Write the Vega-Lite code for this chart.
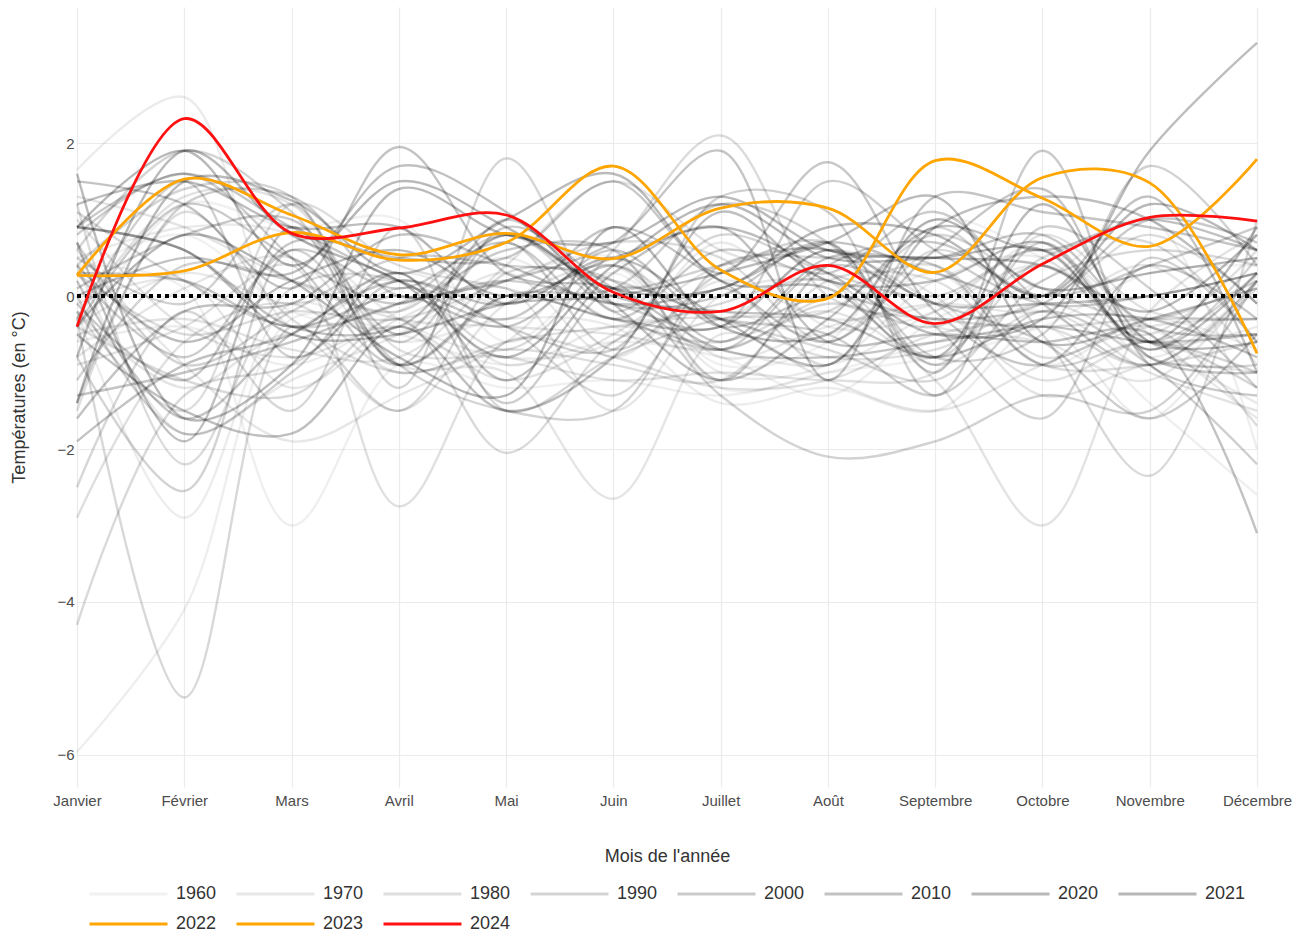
{
  "$schema": "https://vega.github.io/schema/vega-lite/v6.json",
  "width": 1180,
  "height": 780,
  "autosize": {"type": "none"},
  "padding": {"left": 77, "top": 7, "right": 49, "bottom": 148},
  "background": "white",
  "config": {
    "view": {"stroke": null},
    "font": "Liberation Sans",
    "axis": {
      "grid": true,
      "gridColor": "#ebebeb",
      "gridWidth": 1.2,
      "domain": false,
      "ticks": false,
      "labelFontSize": 15,
      "labelColor": "#4d4d4d",
      "labelFont": "Liberation Sans",
      "titleFont": "Liberation Sans",
      "titleFontSize": 18,
      "titleFontWeight": "normal",
      "titleColor": "#333333"
    }
  },
  "datasets": {
    "temperatures": [
      {"annee":1960,"mois":1,"temp":0.3},{"annee":1960,"mois":2,"temp":0.8},{"annee":1960,"mois":3,"temp":-0.2},{"annee":1960,"mois":4,"temp":-0.4},{"annee":1960,"mois":5,"temp":0.2},{"annee":1960,"mois":6,"temp":0.5},{"annee":1960,"mois":7,"temp":-1.2},{"annee":1960,"mois":8,"temp":-1.0},{"annee":1960,"mois":9,"temp":-0.8},{"annee":1960,"mois":10,"temp":-0.4},{"annee":1960,"mois":11,"temp":0.3},{"annee":1960,"mois":12,"temp":0.4},
      {"annee":1961,"mois":1,"temp":-0.6},{"annee":1961,"mois":2,"temp":1.2},{"annee":1961,"mois":3,"temp":0.9},{"annee":1961,"mois":4,"temp":1.0},{"annee":1961,"mois":5,"temp":-0.6},{"annee":1961,"mois":6,"temp":0.3},{"annee":1961,"mois":7,"temp":-0.9},{"annee":1961,"mois":8,"temp":-0.6},{"annee":1961,"mois":9,"temp":1.0},{"annee":1961,"mois":10,"temp":0.5},{"annee":1961,"mois":11,"temp":-0.4},{"annee":1961,"mois":12,"temp":-1.2},
      {"annee":1962,"mois":1,"temp":0.4},{"annee":1962,"mois":2,"temp":0.1},{"annee":1962,"mois":3,"temp":-3.0},{"annee":1962,"mois":4,"temp":-0.9},{"annee":1962,"mois":5,"temp":-1.2},{"annee":1962,"mois":6,"temp":-1.1},{"annee":1962,"mois":7,"temp":-1.3},{"annee":1962,"mois":8,"temp":-1.0},{"annee":1962,"mois":9,"temp":-0.6},{"annee":1962,"mois":10,"temp":-0.2},{"annee":1962,"mois":11,"temp":-1.4},{"annee":1962,"mois":12,"temp":-2.6},
      {"annee":1963,"mois":1,"temp":-5.96},{"annee":1963,"mois":2,"temp":-4.1},{"annee":1963,"mois":3,"temp":-0.3},{"annee":1963,"mois":4,"temp":-0.5},{"annee":1963,"mois":5,"temp":-0.9},{"annee":1963,"mois":6,"temp":-0.6},{"annee":1963,"mois":7,"temp":-0.8},{"annee":1963,"mois":8,"temp":-1.3},{"annee":1963,"mois":9,"temp":-0.3},{"annee":1963,"mois":10,"temp":0.2},{"annee":1963,"mois":11,"temp":1.0},{"annee":1963,"mois":12,"temp":-2.0},
      {"annee":1964,"mois":1,"temp":-0.6},{"annee":1964,"mois":2,"temp":-0.4},{"annee":1964,"mois":3,"temp":-0.9},{"annee":1964,"mois":4,"temp":-0.2},{"annee":1964,"mois":5,"temp":0.5},{"annee":1964,"mois":6,"temp":-0.3},{"annee":1964,"mois":7,"temp":-0.2},{"annee":1964,"mois":8,"temp":-0.5},{"annee":1964,"mois":9,"temp":0.3},{"annee":1964,"mois":10,"temp":-0.9},{"annee":1964,"mois":11,"temp":-0.3},{"annee":1964,"mois":12,"temp":-0.7},
      {"annee":1965,"mois":1,"temp":-0.2},{"annee":1965,"mois":2,"temp":-2.9},{"annee":1965,"mois":3,"temp":-0.1},{"annee":1965,"mois":4,"temp":-0.6},{"annee":1965,"mois":5,"temp":-0.3},{"annee":1965,"mois":6,"temp":-0.4},{"annee":1965,"mois":7,"temp":-1.4},{"annee":1965,"mois":8,"temp":-1.2},{"annee":1965,"mois":9,"temp":-1.5},{"annee":1965,"mois":10,"temp":-0.4},{"annee":1965,"mois":11,"temp":-1.6},{"annee":1965,"mois":12,"temp":0.3},
      {"annee":1966,"mois":1,"temp":1.65},{"annee":1966,"mois":2,"temp":2.6},{"annee":1966,"mois":3,"temp":-0.4},{"annee":1966,"mois":4,"temp":0.3},{"annee":1966,"mois":5,"temp":-0.1},{"annee":1966,"mois":6,"temp":0.4},{"annee":1966,"mois":7,"temp":-1.0},{"annee":1966,"mois":8,"temp":-0.9},{"annee":1966,"mois":9,"temp":0.2},{"annee":1966,"mois":10,"temp":0.5},{"annee":1966,"mois":11,"temp":-0.8},{"annee":1966,"mois":12,"temp":0.2},
      {"annee":1967,"mois":1,"temp":0.5},{"annee":1967,"mois":2,"temp":0.9},{"annee":1967,"mois":3,"temp":0.8},{"annee":1967,"mois":4,"temp":-0.3},{"annee":1967,"mois":5,"temp":-0.8},{"annee":1967,"mois":6,"temp":-0.6},{"annee":1967,"mois":7,"temp":0.7},{"annee":1967,"mois":8,"temp":-0.4},{"annee":1967,"mois":9,"temp":-0.2},{"annee":1967,"mois":10,"temp":0.7},{"annee":1967,"mois":11,"temp":-0.6},{"annee":1967,"mois":12,"temp":-0.4},
      {"annee":1968,"mois":1,"temp":-0.4},{"annee":1968,"mois":2,"temp":0.3},{"annee":1968,"mois":3,"temp":-0.1},{"annee":1968,"mois":4,"temp":0.2},{"annee":1968,"mois":5,"temp":-0.9},{"annee":1968,"mois":6,"temp":-0.4},{"annee":1968,"mois":7,"temp":-0.7},{"annee":1968,"mois":8,"temp":-0.9},{"annee":1968,"mois":9,"temp":-0.2},{"annee":1968,"mois":10,"temp":0.4},{"annee":1968,"mois":11,"temp":-0.6},{"annee":1968,"mois":12,"temp":-1.4},
      {"annee":1969,"mois":1,"temp":0.4},{"annee":1969,"mois":2,"temp":-1.8},{"annee":1969,"mois":3,"temp":-1.1},{"annee":1969,"mois":4,"temp":-0.5},{"annee":1969,"mois":5,"temp":0.3},{"annee":1969,"mois":6,"temp":-0.8},{"annee":1969,"mois":7,"temp":0.2},{"annee":1969,"mois":8,"temp":-0.3},{"annee":1969,"mois":9,"temp":-0.1},{"annee":1969,"mois":10,"temp":0.6},{"annee":1969,"mois":11,"temp":-0.5},{"annee":1969,"mois":12,"temp":-1.6},
      {"annee":1970,"mois":1,"temp":0.6},{"annee":1970,"mois":2,"temp":-0.9},{"annee":1970,"mois":3,"temp":-1.9},{"annee":1970,"mois":4,"temp":-1.3},{"annee":1970,"mois":5,"temp":-0.6},{"annee":1970,"mois":6,"temp":0.5},{"annee":1970,"mois":7,"temp":-0.8},{"annee":1970,"mois":8,"temp":-0.4},{"annee":1970,"mois":9,"temp":-0.1},{"annee":1970,"mois":10,"temp":-0.2},{"annee":1970,"mois":11,"temp":0.4},{"annee":1970,"mois":12,"temp":-0.9},
      {"annee":1971,"mois":1,"temp":-0.1},{"annee":1971,"mois":2,"temp":0.2},{"annee":1971,"mois":3,"temp":-1.2},{"annee":1971,"mois":4,"temp":-0.3},{"annee":1971,"mois":5,"temp":0.1},{"annee":1971,"mois":6,"temp":-1.5},{"annee":1971,"mois":7,"temp":0.0},{"annee":1971,"mois":8,"temp":0.2},{"annee":1971,"mois":9,"temp":-0.4},{"annee":1971,"mois":10,"temp":-0.6},{"annee":1971,"mois":11,"temp":-1.1},{"annee":1971,"mois":12,"temp":0.2},
      {"annee":1972,"mois":1,"temp":-0.8},{"annee":1972,"mois":2,"temp":0.1},{"annee":1972,"mois":3,"temp":0.5},{"annee":1972,"mois":4,"temp":-0.9},{"annee":1972,"mois":5,"temp":-1.0},{"annee":1972,"mois":6,"temp":-2.65},{"annee":1972,"mois":7,"temp":-0.5},{"annee":1972,"mois":8,"temp":-1.1},{"annee":1972,"mois":9,"temp":-1.5},{"annee":1972,"mois":10,"temp":-0.9},{"annee":1972,"mois":11,"temp":-0.4},{"annee":1972,"mois":12,"temp":-0.3},
      {"annee":1973,"mois":1,"temp":-0.2},{"annee":1973,"mois":2,"temp":-1.2},{"annee":1973,"mois":3,"temp":-0.5},{"annee":1973,"mois":4,"temp":-1.5},{"annee":1973,"mois":5,"temp":-0.1},{"annee":1973,"mois":6,"temp":0.4},{"annee":1973,"mois":7,"temp":-0.3},{"annee":1973,"mois":8,"temp":0.6},{"annee":1973,"mois":9,"temp":0.0},{"annee":1973,"mois":10,"temp":-1.3},{"annee":1973,"mois":11,"temp":-0.9},{"annee":1973,"mois":12,"temp":-1.0},
      {"annee":1974,"mois":1,"temp":1.3},{"annee":1974,"mois":2,"temp":0.9},{"annee":1974,"mois":3,"temp":0.2},{"annee":1974,"mois":4,"temp":-0.3},{"annee":1974,"mois":5,"temp":-0.4},{"annee":1974,"mois":6,"temp":-0.5},{"annee":1974,"mois":7,"temp":-0.7},{"annee":1974,"mois":8,"temp":-0.2},{"annee":1974,"mois":9,"temp":-1.1},{"annee":1974,"mois":10,"temp":-3.0},{"annee":1974,"mois":11,"temp":-0.2},{"annee":1974,"mois":12,"temp":0.8},
      {"annee":1975,"mois":1,"temp":1.0},{"annee":1975,"mois":2,"temp":-0.4},{"annee":1975,"mois":3,"temp":-0.8},{"annee":1975,"mois":4,"temp":-0.4},{"annee":1975,"mois":5,"temp":-1.1},{"annee":1975,"mois":6,"temp":-0.5},{"annee":1975,"mois":7,"temp":0.4},{"annee":1975,"mois":8,"temp":0.6},{"annee":1975,"mois":9,"temp":-0.1},{"annee":1975,"mois":10,"temp":-1.1},{"annee":1975,"mois":11,"temp":-0.6},{"annee":1975,"mois":12,"temp":-1.2},
      {"annee":1976,"mois":1,"temp":-0.5},{"annee":1976,"mois":2,"temp":-0.3},{"annee":1976,"mois":3,"temp":-0.7},{"annee":1976,"mois":4,"temp":-0.8},{"annee":1976,"mois":5,"temp":0.4},{"annee":1976,"mois":6,"temp":1.5},{"annee":1976,"mois":7,"temp":0.6},{"annee":1976,"mois":8,"temp":0.2},{"annee":1976,"mois":9,"temp":-0.9},{"annee":1976,"mois":10,"temp":-0.2},{"annee":1976,"mois":11,"temp":-1.0},{"annee":1976,"mois":12,"temp":-1.5},
      {"annee":1977,"mois":1,"temp":-0.3},{"annee":1977,"mois":2,"temp":1.3},{"annee":1977,"mois":3,"temp":1.2},{"annee":1977,"mois":4,"temp":-0.7},{"annee":1977,"mois":5,"temp":-0.8},{"annee":1977,"mois":6,"temp":-1.1},{"annee":1977,"mois":7,"temp":-1.0},{"annee":1977,"mois":8,"temp":-1.1},{"annee":1977,"mois":9,"temp":-1.0},{"annee":1977,"mois":10,"temp":0.8},{"annee":1977,"mois":11,"temp":-0.2},{"annee":1977,"mois":12,"temp":-0.3},
      {"annee":1978,"mois":1,"temp":-0.9},{"annee":1978,"mois":2,"temp":-0.4},{"annee":1978,"mois":3,"temp":0.4},{"annee":1978,"mois":4,"temp":-2.75},{"annee":1978,"mois":5,"temp":-0.6},{"annee":1978,"mois":6,"temp":-0.8},{"annee":1978,"mois":7,"temp":-1.2},{"annee":1978,"mois":8,"temp":-1.1},{"annee":1978,"mois":9,"temp":-0.5},{"annee":1978,"mois":10,"temp":-0.4},{"annee":1978,"mois":11,"temp":-0.9},{"annee":1978,"mois":12,"temp":0.1},
      {"annee":1979,"mois":1,"temp":-2.9},{"annee":1979,"mois":2,"temp":-0.6},{"annee":1979,"mois":3,"temp":-0.1},{"annee":1979,"mois":4,"temp":-1.0},{"annee":1979,"mois":5,"temp":-0.6},{"annee":1979,"mois":6,"temp":-0.4},{"annee":1979,"mois":7,"temp":-0.3},{"annee":1979,"mois":8,"temp":-0.8},{"annee":1979,"mois":9,"temp":-0.7},{"annee":1979,"mois":10,"temp":-0.1},{"annee":1979,"mois":11,"temp":-0.5},{"annee":1979,"mois":12,"temp":0.6},
      {"annee":1980,"mois":1,"temp":-1.5},{"annee":1980,"mois":2,"temp":1.1},{"annee":1980,"mois":3,"temp":-0.3},{"annee":1980,"mois":4,"temp":-1.0},{"annee":1980,"mois":5,"temp":-0.7},{"annee":1980,"mois":6,"temp":-0.9},{"annee":1980,"mois":7,"temp":-1.1},{"annee":1980,"mois":8,"temp":0.2},{"annee":1980,"mois":9,"temp":0.2},{"annee":1980,"mois":10,"temp":-0.9},{"annee":1980,"mois":11,"temp":-0.9},{"annee":1980,"mois":12,"temp":-0.6},
      {"annee":1981,"mois":1,"temp":-0.2},{"annee":1981,"mois":2,"temp":-1.5},{"annee":1981,"mois":3,"temp":1.2},{"annee":1981,"mois":4,"temp":0.4},{"annee":1981,"mois":5,"temp":0.1},{"annee":1981,"mois":6,"temp":-0.3},{"annee":1981,"mois":7,"temp":-0.6},{"annee":1981,"mois":8,"temp":0.0},{"annee":1981,"mois":9,"temp":0.4},{"annee":1981,"mois":10,"temp":-0.8},{"annee":1981,"mois":11,"temp":-0.4},{"annee":1981,"mois":12,"temp":-1.7},
      {"annee":1982,"mois":1,"temp":0.3},{"annee":1982,"mois":2,"temp":-0.5},{"annee":1982,"mois":3,"temp":-0.2},{"annee":1982,"mois":4,"temp":-0.3},{"annee":1982,"mois":5,"temp":0.2},{"annee":1982,"mois":6,"temp":0.7},{"annee":1982,"mois":7,"temp":0.5},{"annee":1982,"mois":8,"temp":-0.6},{"annee":1982,"mois":9,"temp":0.6},{"annee":1982,"mois":10,"temp":0.0},{"annee":1982,"mois":11,"temp":0.8},{"annee":1982,"mois":12,"temp":-0.1},
      {"annee":1983,"mois":1,"temp":1.2},{"annee":1983,"mois":2,"temp":-2.2},{"annee":1983,"mois":3,"temp":0.1},{"annee":1983,"mois":4,"temp":0.2},{"annee":1983,"mois":5,"temp":-0.7},{"annee":1983,"mois":6,"temp":0.6},{"annee":1983,"mois":7,"temp":2.1},{"annee":1983,"mois":8,"temp":0.0},{"annee":1983,"mois":9,"temp":-0.3},{"annee":1983,"mois":10,"temp":-0.4},{"annee":1983,"mois":11,"temp":-0.3},{"annee":1983,"mois":12,"temp":-0.3},
      {"annee":1984,"mois":1,"temp":-0.4},{"annee":1984,"mois":2,"temp":-1.1},{"annee":1984,"mois":3,"temp":-1.3},{"annee":1984,"mois":4,"temp":-0.3},{"annee":1984,"mois":5,"temp":-2.05},{"annee":1984,"mois":6,"temp":-0.6},{"annee":1984,"mois":7,"temp":-0.1},{"annee":1984,"mois":8,"temp":0.2},{"annee":1984,"mois":9,"temp":-0.8},{"annee":1984,"mois":10,"temp":0.5},{"annee":1984,"mois":11,"temp":0.7},{"annee":1984,"mois":12,"temp":-0.6},
      {"annee":1985,"mois":1,"temp":-4.3},{"annee":1985,"mois":2,"temp":-1.3},{"annee":1985,"mois":3,"temp":-0.9},{"annee":1985,"mois":4,"temp":0.1},{"annee":1985,"mois":5,"temp":-0.4},{"annee":1985,"mois":6,"temp":-1.3},{"annee":1985,"mois":7,"temp":0.1},{"annee":1985,"mois":8,"temp":-0.9},{"annee":1985,"mois":9,"temp":0.9},{"annee":1985,"mois":10,"temp":-0.5},{"annee":1985,"mois":11,"temp":-2.35},{"annee":1985,"mois":12,"temp":1.0},
      {"annee":1986,"mois":1,"temp":-0.3},{"annee":1986,"mois":2,"temp":-5.25},{"annee":1986,"mois":3,"temp":-0.4},{"annee":1986,"mois":4,"temp":-1.5},{"annee":1986,"mois":5,"temp":0.3},{"annee":1986,"mois":6,"temp":0.2},{"annee":1986,"mois":7,"temp":-0.3},{"annee":1986,"mois":8,"temp":-0.7},{"annee":1986,"mois":9,"temp":-1.1},{"annee":1986,"mois":10,"temp":0.2},{"annee":1986,"mois":11,"temp":0.6},{"annee":1986,"mois":12,"temp":0.4},
      {"annee":1987,"mois":1,"temp":-2.5},{"annee":1987,"mois":2,"temp":-0.2},{"annee":1987,"mois":3,"temp":-1.5},{"annee":1987,"mois":4,"temp":0.9},{"annee":1987,"mois":5,"temp":-1.5},{"annee":1987,"mois":6,"temp":-0.8},{"annee":1987,"mois":7,"temp":-0.3},{"annee":1987,"mois":8,"temp":-0.2},{"annee":1987,"mois":9,"temp":0.8},{"annee":1987,"mois":10,"temp":0.1},{"annee":1987,"mois":11,"temp":-0.3},{"annee":1987,"mois":12,"temp":0.2},
      {"annee":1988,"mois":1,"temp":1.1},{"annee":1988,"mois":2,"temp":0.2},{"annee":1988,"mois":3,"temp":-0.4},{"annee":1988,"mois":4,"temp":-0.1},{"annee":1988,"mois":5,"temp":0.8},{"annee":1988,"mois":6,"temp":-0.2},{"annee":1988,"mois":7,"temp":-0.7},{"annee":1988,"mois":8,"temp":-0.1},{"annee":1988,"mois":9,"temp":-0.4},{"annee":1988,"mois":10,"temp":0.4},{"annee":1988,"mois":11,"temp":-0.6},{"annee":1988,"mois":12,"temp":0.3},
      {"annee":1989,"mois":1,"temp":0.4},{"annee":1989,"mois":2,"temp":1.4},{"annee":1989,"mois":3,"temp":1.3},{"annee":1989,"mois":4,"temp":-1.2},{"annee":1989,"mois":5,"temp":1.8},{"annee":1989,"mois":6,"temp":-0.2},{"annee":1989,"mois":7,"temp":0.8},{"annee":1989,"mois":8,"temp":0.3},{"annee":1989,"mois":9,"temp":0.0},{"annee":1989,"mois":10,"temp":0.6},{"annee":1989,"mois":11,"temp":-0.7},{"annee":1989,"mois":12,"temp":0.5},
      {"annee":1990,"mois":1,"temp":0.6},{"annee":1990,"mois":2,"temp":1.9},{"annee":1990,"mois":3,"temp":1.1},{"annee":1990,"mois":4,"temp":-0.6},{"annee":1990,"mois":5,"temp":0.7},{"annee":1990,"mois":6,"temp":-0.7},{"annee":1990,"mois":7,"temp":0.3},{"annee":1990,"mois":8,"temp":0.7},{"annee":1990,"mois":9,"temp":-0.9},{"annee":1990,"mois":10,"temp":0.7},{"annee":1990,"mois":11,"temp":-0.8},{"annee":1990,"mois":12,"temp":-0.9},
      {"annee":1991,"mois":1,"temp":-0.8},{"annee":1991,"mois":2,"temp":-2.55},{"annee":1991,"mois":3,"temp":0.6},{"annee":1991,"mois":4,"temp":-0.9},{"annee":1991,"mois":5,"temp":-1.5},{"annee":1991,"mois":6,"temp":-1.5},{"annee":1991,"mois":7,"temp":0.4},{"annee":1991,"mois":8,"temp":0.5},{"annee":1991,"mois":9,"temp":0.4},{"annee":1991,"mois":10,"temp":-0.9},{"annee":1991,"mois":11,"temp":-0.6},{"annee":1991,"mois":12,"temp":-1.0},
      {"annee":1992,"mois":1,"temp":-1.1},{"annee":1992,"mois":2,"temp":0.4},{"annee":1992,"mois":3,"temp":0.2},{"annee":1992,"mois":4,"temp":-0.2},{"annee":1992,"mois":5,"temp":0.8},{"annee":1992,"mois":6,"temp":0.1},{"annee":1992,"mois":7,"temp":0.4},{"annee":1992,"mois":8,"temp":0.6},{"annee":1992,"mois":9,"temp":-0.4},{"annee":1992,"mois":10,"temp":-1.6},{"annee":1992,"mois":11,"temp":0.5},{"annee":1992,"mois":12,"temp":-0.6},
      {"annee":1993,"mois":1,"temp":0.7},{"annee":1993,"mois":2,"temp":-0.9},{"annee":1993,"mois":3,"temp":-0.2},{"annee":1993,"mois":4,"temp":0.5},{"annee":1993,"mois":5,"temp":0.4},{"annee":1993,"mois":6,"temp":0.2},{"annee":1993,"mois":7,"temp":-1.3},{"annee":1993,"mois":8,"temp":-2.1},{"annee":1993,"mois":9,"temp":-1.9},{"annee":1993,"mois":10,"temp":-1.3},{"annee":1993,"mois":11,"temp":-1.5},{"annee":1993,"mois":12,"temp":0.2},
      {"annee":1994,"mois":1,"temp":0.5},{"annee":1994,"mois":2,"temp":-0.1},{"annee":1994,"mois":3,"temp":1.2},{"annee":1994,"mois":4,"temp":-0.9},{"annee":1994,"mois":5,"temp":0.0},{"annee":1994,"mois":6,"temp":0.1},{"annee":1994,"mois":7,"temp":1.2},{"annee":1994,"mois":8,"temp":0.7},{"annee":1994,"mois":9,"temp":-0.8},{"annee":1994,"mois":10,"temp":-0.5},{"annee":1994,"mois":11,"temp":1.7},{"annee":1994,"mois":12,"temp":0.4},
      {"annee":1995,"mois":1,"temp":-0.3},{"annee":1995,"mois":2,"temp":1.5},{"annee":1995,"mois":3,"temp":-0.8},{"annee":1995,"mois":4,"temp":0.2},{"annee":1995,"mois":5,"temp":-0.4},{"annee":1995,"mois":6,"temp":-0.7},{"annee":1995,"mois":7,"temp":1.3},{"annee":1995,"mois":8,"temp":1.1},{"annee":1995,"mois":9,"temp":-1.3},{"annee":1995,"mois":10,"temp":0.9},{"annee":1995,"mois":11,"temp":0.1},{"annee":1995,"mois":12,"temp":-1.2},
      {"annee":1996,"mois":1,"temp":0.0},{"annee":1996,"mois":2,"temp":-1.8},{"annee":1996,"mois":3,"temp":-1.0},{"annee":1996,"mois":4,"temp":0.3},{"annee":1996,"mois":5,"temp":-1.4},{"annee":1996,"mois":6,"temp":0.1},{"annee":1996,"mois":7,"temp":-0.3},{"annee":1996,"mois":8,"temp":-0.5},{"annee":1996,"mois":9,"temp":-1.3},{"annee":1996,"mois":10,"temp":-0.2},{"annee":1996,"mois":11,"temp":-0.9},{"annee":1996,"mois":12,"temp":-2.2},
      {"annee":1997,"mois":1,"temp":-1.4},{"annee":1997,"mois":2,"temp":1.2},{"annee":1997,"mois":3,"temp":1.3},{"annee":1997,"mois":4,"temp":0.0},{"annee":1997,"mois":5,"temp":0.2},{"annee":1997,"mois":6,"temp":-0.1},{"annee":1997,"mois":7,"temp":-0.4},{"annee":1997,"mois":8,"temp":1.5},{"annee":1997,"mois":9,"temp":0.6},{"annee":1997,"mois":10,"temp":-0.1},{"annee":1997,"mois":11,"temp":0.0},{"annee":1997,"mois":12,"temp":0.3},
      {"annee":1998,"mois":1,"temp":0.8},{"annee":1998,"mois":2,"temp":1.6},{"annee":1998,"mois":3,"temp":0.5},{"annee":1998,"mois":4,"temp":-0.9},{"annee":1998,"mois":5,"temp":0.9},{"annee":1998,"mois":6,"temp":0.1},{"annee":1998,"mois":7,"temp":-0.7},{"annee":1998,"mois":8,"temp":0.4},{"annee":1998,"mois":9,"temp":-0.1},{"annee":1998,"mois":10,"temp":-0.6},{"annee":1998,"mois":11,"temp":-1.6},{"annee":1998,"mois":12,"temp":-0.5},
      {"annee":1999,"mois":1,"temp":0.3},{"annee":1999,"mois":2,"temp":-0.8},{"annee":1999,"mois":3,"temp":0.6},{"annee":1999,"mois":4,"temp":0.1},{"annee":1999,"mois":5,"temp":0.7},{"annee":1999,"mois":6,"temp":-0.3},{"annee":1999,"mois":7,"temp":0.6},{"annee":1999,"mois":8,"temp":0.3},{"annee":1999,"mois":9,"temp":1.1},{"annee":1999,"mois":10,"temp":-0.1},{"annee":1999,"mois":11,"temp":-0.9},{"annee":1999,"mois":12,"temp":0.2},
      {"annee":2000,"mois":1,"temp":-0.4},{"annee":2000,"mois":2,"temp":1.2},{"annee":2000,"mois":3,"temp":0.5},{"annee":2000,"mois":4,"temp":-0.1},{"annee":2000,"mois":5,"temp":0.6},{"annee":2000,"mois":6,"temp":0.6},{"annee":2000,"mois":7,"temp":-1.1},{"annee":2000,"mois":8,"temp":0.4},{"annee":2000,"mois":9,"temp":0.7},{"annee":2000,"mois":10,"temp":0.0},{"annee":2000,"mois":11,"temp":0.4},{"annee":2000,"mois":12,"temp":0.9},
      {"annee":2001,"mois":1,"temp":0.1},{"annee":2001,"mois":2,"temp":0.8},{"annee":2001,"mois":3,"temp":1.0},{"annee":2001,"mois":4,"temp":-0.5},{"annee":2001,"mois":5,"temp":1.0},{"annee":2001,"mois":6,"temp":-0.1},{"annee":2001,"mois":7,"temp":0.0},{"annee":2001,"mois":8,"temp":0.7},{"annee":2001,"mois":9,"temp":-1.0},{"annee":2001,"mois":10,"temp":1.9},{"annee":2001,"mois":11,"temp":-0.9},{"annee":2001,"mois":12,"temp":-1.3},
      {"annee":2002,"mois":1,"temp":0.9},{"annee":2002,"mois":2,"temp":1.6},{"annee":2002,"mois":3,"temp":0.9},{"annee":2002,"mois":4,"temp":0.2},{"annee":2002,"mois":5,"temp":-0.3},{"annee":2002,"mois":6,"temp":0.6},{"annee":2002,"mois":7,"temp":-0.4},{"annee":2002,"mois":8,"temp":0.0},{"annee":2002,"mois":9,"temp":-0.3},{"annee":2002,"mois":10,"temp":-0.1},{"annee":2002,"mois":11,"temp":1.0},{"annee":2002,"mois":12,"temp":0.7},
      {"annee":2003,"mois":1,"temp":-0.1},{"annee":2003,"mois":2,"temp":-1.1},{"annee":2003,"mois":3,"temp":0.7},{"annee":2003,"mois":4,"temp":0.5},{"annee":2003,"mois":5,"temp":0.5},{"annee":2003,"mois":6,"temp":1.5},{"annee":2003,"mois":7,"temp":0.3},{"annee":2003,"mois":8,"temp":1.75},{"annee":2003,"mois":9,"temp":-0.2},{"annee":2003,"mois":10,"temp":-0.9},{"annee":2003,"mois":11,"temp":0.4},{"annee":2003,"mois":12,"temp":-0.3},
      {"annee":2004,"mois":1,"temp":0.3},{"annee":2004,"mois":2,"temp":0.2},{"annee":2004,"mois":3,"temp":-0.4},{"annee":2004,"mois":4,"temp":0.0},{"annee":2004,"mois":5,"temp":-0.4},{"annee":2004,"mois":6,"temp":0.4},{"annee":2004,"mois":7,"temp":-0.6},{"annee":2004,"mois":8,"temp":0.5},{"annee":2004,"mois":9,"temp":0.5},{"annee":2004,"mois":10,"temp":0.8},{"annee":2004,"mois":11,"temp":-0.4},{"annee":2004,"mois":12,"temp":-0.5},
      {"annee":2005,"mois":1,"temp":0.2},{"annee":2005,"mois":2,"temp":-1.6},{"annee":2005,"mois":3,"temp":-0.5},{"annee":2005,"mois":4,"temp":0.2},{"annee":2005,"mois":5,"temp":-0.1},{"annee":2005,"mois":6,"temp":0.9},{"annee":2005,"mois":7,"temp":0.2},{"annee":2005,"mois":8,"temp":-0.6},{"annee":2005,"mois":9,"temp":0.6},{"annee":2005,"mois":10,"temp":1.4},{"annee":2005,"mois":11,"temp":-0.8},{"annee":2005,"mois":12,"temp":-1.0},
      {"annee":2006,"mois":1,"temp":-1.3},{"annee":2006,"mois":2,"temp":-1.0},{"annee":2006,"mois":3,"temp":-0.6},{"annee":2006,"mois":4,"temp":-0.1},{"annee":2006,"mois":5,"temp":0.2},{"annee":2006,"mois":6,"temp":0.7},{"annee":2006,"mois":7,"temp":1.9},{"annee":2006,"mois":8,"temp":-1.1},{"annee":2006,"mois":9,"temp":1.3},{"annee":2006,"mois":10,"temp":1.1},{"annee":2006,"mois":11,"temp":0.9},{"annee":2006,"mois":12,"temp":0.6},
      {"annee":2007,"mois":1,"temp":1.5},{"annee":2007,"mois":2,"temp":1.2},{"annee":2007,"mois":3,"temp":0.1},{"annee":2007,"mois":4,"temp":1.95},{"annee":2007,"mois":5,"temp":0.3},{"annee":2007,"mois":6,"temp":0.1},{"annee":2007,"mois":7,"temp":-0.7},{"annee":2007,"mois":8,"temp":-0.8},{"annee":2007,"mois":9,"temp":-0.6},{"annee":2007,"mois":10,"temp":-0.4},{"annee":2007,"mois":11,"temp":-0.6},{"annee":2007,"mois":12,"temp":-0.5},
      {"annee":2008,"mois":1,"temp":0.9},{"annee":2008,"mois":2,"temp":0.6},{"annee":2008,"mois":3,"temp":-0.4},{"annee":2008,"mois":4,"temp":-0.4},{"annee":2008,"mois":5,"temp":0.8},{"annee":2008,"mois":6,"temp":0.0},{"annee":2008,"mois":7,"temp":-0.2},{"annee":2008,"mois":8,"temp":-0.3},{"annee":2008,"mois":9,"temp":-0.8},{"annee":2008,"mois":10,"temp":-0.3},{"annee":2008,"mois":11,"temp":-0.3},{"annee":2008,"mois":12,"temp":-0.8},
      {"annee":2009,"mois":1,"temp":-1.6},{"annee":2009,"mois":2,"temp":-0.2},{"annee":2009,"mois":3,"temp":-0.1},{"annee":2009,"mois":4,"temp":0.8},{"annee":2009,"mois":5,"temp":0.4},{"annee":2009,"mois":6,"temp":-0.1},{"annee":2009,"mois":7,"temp":0.1},{"annee":2009,"mois":8,"temp":0.7},{"annee":2009,"mois":9,"temp":0.3},{"annee":2009,"mois":10,"temp":0.0},{"annee":2009,"mois":11,"temp":1.3},{"annee":2009,"mois":12,"temp":-1.0},
      {"annee":2010,"mois":1,"temp":-1.9},{"annee":2010,"mois":2,"temp":-0.9},{"annee":2010,"mois":3,"temp":-0.5},{"annee":2010,"mois":4,"temp":0.3},{"annee":2010,"mois":5,"temp":-1.1},{"annee":2010,"mois":6,"temp":0.3},{"annee":2010,"mois":7,"temp":0.9},{"annee":2010,"mois":8,"temp":-0.6},{"annee":2010,"mois":9,"temp":-0.5},{"annee":2010,"mois":10,"temp":-0.6},{"annee":2010,"mois":11,"temp":-0.5},{"annee":2010,"mois":12,"temp":-3.1},
      {"annee":2011,"mois":1,"temp":0.0},{"annee":2011,"mois":2,"temp":0.5},{"annee":2011,"mois":3,"temp":0.3},{"annee":2011,"mois":4,"temp":1.7},{"annee":2011,"mois":5,"temp":1.1},{"annee":2011,"mois":6,"temp":-0.1},{"annee":2011,"mois":7,"temp":-1.1},{"annee":2011,"mois":8,"temp":-0.3},{"annee":2011,"mois":9,"temp":0.9},{"annee":2011,"mois":10,"temp":0.6},{"annee":2011,"mois":11,"temp":1.0},{"annee":2011,"mois":12,"temp":0.6},
      {"annee":2012,"mois":1,"temp":0.7},{"annee":2012,"mois":2,"temp":-1.9},{"annee":2012,"mois":3,"temp":0.9},{"annee":2012,"mois":4,"temp":-0.9},{"annee":2012,"mois":5,"temp":0.0},{"annee":2012,"mois":6,"temp":-0.3},{"annee":2012,"mois":7,"temp":-0.4},{"annee":2012,"mois":8,"temp":0.6},{"annee":2012,"mois":9,"temp":-0.1},{"annee":2012,"mois":10,"temp":-0.1},{"annee":2012,"mois":11,"temp":0.0},{"annee":2012,"mois":12,"temp":0.3},
      {"annee":2013,"mois":1,"temp":-0.5},{"annee":2013,"mois":2,"temp":-1.5},{"annee":2013,"mois":3,"temp":-1.8},{"annee":2013,"mois":4,"temp":-0.4},{"annee":2013,"mois":5,"temp":-1.5},{"annee":2013,"mois":6,"temp":-0.8},{"annee":2013,"mois":7,"temp":1.1},{"annee":2013,"mois":8,"temp":0.2},{"annee":2013,"mois":9,"temp":0.2},{"annee":2013,"mois":10,"temp":0.7},{"annee":2013,"mois":11,"temp":-0.7},{"annee":2013,"mois":12,"temp":0.3},
      {"annee":2014,"mois":1,"temp":1.2},{"annee":2014,"mois":2,"temp":1.5},{"annee":2014,"mois":3,"temp":0.9},{"annee":2014,"mois":4,"temp":0.9},{"annee":2014,"mois":5,"temp":-0.1},{"annee":2014,"mois":6,"temp":0.5},{"annee":2014,"mois":7,"temp":-0.3},{"annee":2014,"mois":8,"temp":-0.9},{"annee":2014,"mois":9,"temp":0.9},{"annee":2014,"mois":10,"temp":1.3},{"annee":2014,"mois":11,"temp":1.0},{"annee":2014,"mois":12,"temp":-0.1},
      {"annee":2015,"mois":1,"temp":0.4},{"annee":2015,"mois":2,"temp":-0.6},{"annee":2015,"mois":3,"temp":0.2},{"annee":2015,"mois":4,"temp":0.6},{"annee":2015,"mois":5,"temp":0.0},{"annee":2015,"mois":6,"temp":0.5},{"annee":2015,"mois":7,"temp":0.9},{"annee":2015,"mois":8,"temp":0.3},{"annee":2015,"mois":9,"temp":-0.5},{"annee":2015,"mois":10,"temp":-0.3},{"annee":2015,"mois":11,"temp":1.9},{"annee":2015,"mois":12,"temp":3.31},
      {"annee":2016,"mois":1,"temp":0.9},{"annee":2016,"mois":2,"temp":0.6},{"annee":2016,"mois":3,"temp":-0.5},{"annee":2016,"mois":4,"temp":-0.5},{"annee":2016,"mois":5,"temp":-0.1},{"annee":2016,"mois":6,"temp":0.0},{"annee":2016,"mois":7,"temp":0.3},{"annee":2016,"mois":8,"temp":0.7},{"annee":2016,"mois":9,"temp":1.3},{"annee":2016,"mois":10,"temp":-0.6},{"annee":2016,"mois":11,"temp":-0.3},{"annee":2016,"mois":12,"temp":0.1},
      {"annee":2017,"mois":1,"temp":-1.4},{"annee":2017,"mois":2,"temp":1.5},{"annee":2017,"mois":3,"temp":1.25},{"annee":2017,"mois":4,"temp":0.3},{"annee":2017,"mois":5,"temp":1.0},{"annee":2017,"mois":6,"temp":1.6},{"annee":2017,"mois":7,"temp":0.2},{"annee":2017,"mois":8,"temp":0.1},{"annee":2017,"mois":9,"temp":-0.8},{"annee":2017,"mois":10,"temp":1.2},{"annee":2017,"mois":11,"temp":-0.6},{"annee":2017,"mois":12,"temp":-0.6},
      {"annee":2018,"mois":1,"temp":1.6},{"annee":2018,"mois":2,"temp":-1.6},{"annee":2018,"mois":3,"temp":-0.9},{"annee":2018,"mois":4,"temp":1.4},{"annee":2018,"mois":5,"temp":0.8},{"annee":2018,"mois":6,"temp":0.7},{"annee":2018,"mois":7,"temp":1.3},{"annee":2018,"mois":8,"temp":0.6},{"annee":2018,"mois":9,"temp":0.5},{"annee":2018,"mois":10,"temp":0.4},{"annee":2018,"mois":11,"temp":-0.2},{"annee":2018,"mois":12,"temp":0.8},
      {"annee":2019,"mois":1,"temp":-0.8},{"annee":2019,"mois":2,"temp":1.9},{"annee":2019,"mois":3,"temp":0.8},{"annee":2019,"mois":4,"temp":0.2},{"annee":2019,"mois":5,"temp":-0.8},{"annee":2019,"mois":6,"temp":0.4},{"annee":2019,"mois":7,"temp":1.2},{"annee":2019,"mois":8,"temp":0.5},{"annee":2019,"mois":9,"temp":0.5},{"annee":2019,"mois":10,"temp":0.6},{"annee":2019,"mois":11,"temp":-0.6},{"annee":2019,"mois":12,"temp":0.9},
      {"annee":2020,"mois":1,"temp":0.9},{"annee":2020,"mois":2,"temp":1.9},{"annee":2020,"mois":3,"temp":0.4},{"annee":2020,"mois":4,"temp":1.5},{"annee":2020,"mois":5,"temp":0.9},{"annee":2020,"mois":6,"temp":0.1},{"annee":2020,"mois":7,"temp":0.1},{"annee":2020,"mois":8,"temp":0.9},{"annee":2020,"mois":9,"temp":0.8},{"annee":2020,"mois":10,"temp":0.0},{"annee":2020,"mois":11,"temp":1.2},{"annee":2020,"mois":12,"temp":0.6},
      {"annee":2021,"mois":1,"temp":-0.4},{"annee":2021,"mois":2,"temp":0.8},{"annee":2021,"mois":3,"temp":0.2},{"annee":2021,"mois":4,"temp":-0.8},{"annee":2021,"mois":5,"temp":-1.3},{"annee":2021,"mois":6,"temp":0.9},{"annee":2021,"mois":7,"temp":-0.4},{"annee":2021,"mois":8,"temp":-0.5},{"annee":2021,"mois":9,"temp":1.0},{"annee":2021,"mois":10,"temp":0.1},{"annee":2021,"mois":11,"temp":0.3},{"annee":2021,"mois":12,"temp":0.5},
      {"annee":2022,"mois":1,"temp":0.27},{"annee":2022,"mois":2,"temp":1.53},{"annee":2022,"mois":3,"temp":1.06},{"annee":2022,"mois":4,"temp":0.54},{"annee":2022,"mois":5,"temp":0.82},{"annee":2022,"mois":6,"temp":0.49},{"annee":2022,"mois":7,"temp":1.15},{"annee":2022,"mois":8,"temp":1.15},{"annee":2022,"mois":9,"temp":0.31},{"annee":2022,"mois":10,"temp":1.55},{"annee":2022,"mois":11,"temp":1.48},{"annee":2022,"mois":12,"temp":-0.75},
      {"annee":2023,"mois":1,"temp":0.27},{"annee":2023,"mois":2,"temp":0.33},{"annee":2023,"mois":3,"temp":0.83},{"annee":2023,"mois":4,"temp":0.47},{"annee":2023,"mois":5,"temp":0.7},{"annee":2023,"mois":6,"temp":1.7},{"annee":2023,"mois":7,"temp":0.34},{"annee":2023,"mois":8,"temp":-0.03},{"annee":2023,"mois":9,"temp":1.77},{"annee":2023,"mois":10,"temp":1.28},{"annee":2023,"mois":11,"temp":0.65},{"annee":2023,"mois":12,"temp":1.79},
      {"annee":2024,"mois":1,"temp":-0.4},{"annee":2024,"mois":2,"temp":2.32},{"annee":2024,"mois":3,"temp":0.82},{"annee":2024,"mois":4,"temp":0.89},{"annee":2024,"mois":5,"temp":1.06},{"annee":2024,"mois":6,"temp":0.05},{"annee":2024,"mois":7,"temp":-0.2},{"annee":2024,"mois":8,"temp":0.4},{"annee":2024,"mois":9,"temp":-0.36},{"annee":2024,"mois":10,"temp":0.42},{"annee":2024,"mois":11,"temp":1.03},{"annee":2024,"mois":12,"temp":0.98}
    ]
  },
  "data": {"name": "temperatures"},
  "layer": [
    {
      "transform": [{"filter": "datum.annee <= 2021"}],
      "mark": {"type": "line", "interpolate": "catmull-rom", "strokeWidth": 2.4},
      "encoding": {
        "x": {
          "field": "mois", "type": "quantitative",
          "scale": {"domain": [1, 12], "nice": false, "zero": false},
          "axis": {
            "values": [1, 2, 3, 4, 5, 6, 7, 8, 9, 10, 11, 12],
            "labelExpr": "['Janvier','Février','Mars','Avril','Mai','Juin','Juillet','Août','Septembre','Octobre','Novembre','Décembre'][datum.value - 1]",
            "title": "Mois de l'année",
            "labelPadding": 6,
            "titlePadding": 39,
            "labelFlush": false,
            "labelBound": false,
            "labelOverlap": false
          }
        },
        "y": {
          "field": "temp", "type": "quantitative",
          "scale": {"domain": [-6.42, 3.78], "nice": false, "zero": false},
          "axis": {
            "values": [-6, -4, -2, 0, 2],
            "format": "d",
            "title": "Températures (en °C)",
            "labelPadding": 3,
            "titlePadding": 28
          }
        },
        "color": {
          "field": "annee", "type": "nominal",
          "scale": {
            "domain": [1960,1961,1962,1963,1964,1965,1966,1967,1968,1969,1970,1971,1972,1973,1974,1975,1976,1977,1978,1979,1980,1981,1982,1983,1984,1985,1986,1987,1988,1989,1990,1991,1992,1993,1994,1995,1996,1997,1998,1999,2000,2001,2002,2003,2004,2005,2006,2007,2008,2009,2010,2011,2012,2013,2014,2015,2016,2017,2018,2019,2020,2021,2022,2023,2024],
            "range": ["rgba(0,0,0,0.056)","rgba(0,0,0,0.060)","rgba(0,0,0,0.064)","rgba(0,0,0,0.067)","rgba(0,0,0,0.071)","rgba(0,0,0,0.075)","rgba(0,0,0,0.078)","rgba(0,0,0,0.082)","rgba(0,0,0,0.086)","rgba(0,0,0,0.090)","rgba(0,0,0,0.093)","rgba(0,0,0,0.097)","rgba(0,0,0,0.101)","rgba(0,0,0,0.104)","rgba(0,0,0,0.108)","rgba(0,0,0,0.112)","rgba(0,0,0,0.115)","rgba(0,0,0,0.119)","rgba(0,0,0,0.123)","rgba(0,0,0,0.127)","rgba(0,0,0,0.130)","rgba(0,0,0,0.134)","rgba(0,0,0,0.138)","rgba(0,0,0,0.141)","rgba(0,0,0,0.145)","rgba(0,0,0,0.149)","rgba(0,0,0,0.152)","rgba(0,0,0,0.156)","rgba(0,0,0,0.160)","rgba(0,0,0,0.164)","rgba(0,0,0,0.167)","rgba(0,0,0,0.171)","rgba(0,0,0,0.175)","rgba(0,0,0,0.178)","rgba(0,0,0,0.182)","rgba(0,0,0,0.186)","rgba(0,0,0,0.189)","rgba(0,0,0,0.193)","rgba(0,0,0,0.197)","rgba(0,0,0,0.200)","rgba(0,0,0,0.204)","rgba(0,0,0,0.208)","rgba(0,0,0,0.212)","rgba(0,0,0,0.215)","rgba(0,0,0,0.219)","rgba(0,0,0,0.223)","rgba(0,0,0,0.226)","rgba(0,0,0,0.230)","rgba(0,0,0,0.234)","rgba(0,0,0,0.237)","rgba(0,0,0,0.241)","rgba(0,0,0,0.245)","rgba(0,0,0,0.249)","rgba(0,0,0,0.252)","rgba(0,0,0,0.256)","rgba(0,0,0,0.260)","rgba(0,0,0,0.263)","rgba(0,0,0,0.267)","rgba(0,0,0,0.271)","rgba(0,0,0,0.274)","rgba(0,0,0,0.278)","rgba(0,0,0,0.282)","#FFA500","#FFA500","#FF1010"]
          },
          "legend": {
            "values": [1960, 1970, 1980, 1990, 2000, 2010, 2020, 2021, 2022, 2023, 2024],
            "title": null,
            "orient": "none",
            "legendX": 11,
            "legendY": 877,
            "direction": "horizontal",
            "columns": 8,
            "symbolType": "stroke",
            "symbolSize": 6084,
            "symbolStrokeWidth": 3,
            "clipHeight": 20,
            "labelFontSize": 18,
            "labelColor": "#333333",
            "labelFont": "Liberation Sans",
            "labelOffset": 7,
            "columnPadding": 18,
            "rowPadding": 10
          }
        }
      }
    },
    {
      "mark": {"type": "rule", "color": "black", "strokeWidth": 2.6, "strokeDash": [4, 4]},
      "encoding": {"y": {"datum": 0}}
    },
    {
      "transform": [{"filter": "datum.annee >= 2022"}],
      "mark": {"type": "line", "interpolate": "catmull-rom", "strokeWidth": 2.8},
      "encoding": {
        "x": {"field": "mois", "type": "quantitative"},
        "y": {"field": "temp", "type": "quantitative"},
        "color": {"field": "annee", "type": "nominal"}
      }
    }
  ]
}
